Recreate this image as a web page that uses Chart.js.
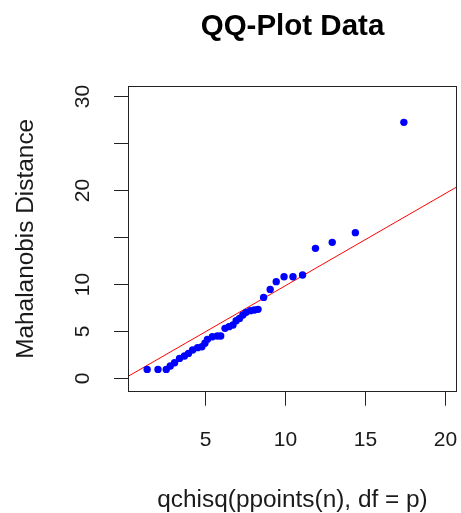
<!DOCTYPE html>
<html>
<head>
<meta charset="utf-8">
<script src="https://cdn.jsdelivr.net/npm/chart.js@4"></script>
<style>
  html, body { margin: 0; padding: 0; background: #fff; }
  canvas { display: block; }
</style>
</head>
<body>
<canvas id="qq" width="461" height="513"></canvas>
<script>
// chi-square quantiles (x) against squared Mahalanobis distances (y)
const chisqQuantiles = [1.36, 2.04, 2.56, 2.81, 3.08, 3.39, 3.70, 3.95, 4.21, 4.52, 4.79, 4.98,
  5.14, 5.45, 5.76, 5.97, 6.24, 6.49, 6.74, 6.94, 7.15, 7.36, 7.56, 7.83, 8.08, 8.31,
  8.66, 9.07, 9.45, 9.94, 10.50, 11.10, 11.91, 12.96, 14.41, 17.45];
const mahalanobis = [0.95, 0.95, 0.95, 1.31, 1.66, 2.12, 2.37, 2.65, 3.01, 3.26, 3.36, 3.72,
  4.14, 4.42, 4.50, 4.50, 5.31, 5.49, 5.66, 6.12, 6.37, 6.73, 7.01, 7.19, 7.26, 7.33,
  8.60, 9.45, 10.27, 10.80, 10.80, 10.98, 13.81, 14.45, 15.48, 27.20];

const xTicks = [5, 10, 15, 20];
const yTicks = [0, 5, 10, 15, 20, 25, 30];
const yTickLabels = ["0", "5", "10", "", "20", "", "30"];   // R drops 15 and 25 (overlap)

const xLimits = [0.16, 20.78];
const yLimits = [-1.42, 31.06];

// reference line
const lineIntercept = 0.05;
const lineSlope = 0.977;

const textColor = "#1a1a1a";
const fontFamily = "'Liberation Sans', Arial, sans-serif";

const refLine = xLimits.map(x => ({ x: x, y: lineIntercept + lineSlope * x }));
const points = chisqQuantiles.map((x, i) => ({ x: x, y: mahalanobis[i] }));

// R style box, ticks and labels
const rAxes = {
  id: "rAxes",
  afterDraw(chart) {
    const ctx = chart.ctx;
    const area = chart.chartArea;
    const xs = chart.scales.x;
    const ys = chart.scales.y;
    ctx.save();
    ctx.strokeStyle = "#222";
    ctx.lineWidth = 1;
    ctx.strokeRect(Math.round(area.left) + 0.5, Math.round(area.top) + 0.5,
      Math.round(area.right - area.left) - 1, Math.round(area.bottom - area.top) - 1);

    ctx.fillStyle = textColor;
    ctx.font = "21px " + fontFamily;

    // x ticks
    ctx.textAlign = "center";
    ctx.textBaseline = "alphabetic";
    xTicks.forEach(v => {
      const px = Math.round(xs.getPixelForValue(v)) + 0.5;
      ctx.beginPath();
      ctx.moveTo(px, area.bottom);
      ctx.lineTo(px, area.bottom + 14);
      ctx.stroke();
      ctx.fillText(String(v), px, 446);
    });

    // y ticks, labels rotated like las = 0
    yTicks.forEach((v, i) => {
      const py = Math.round(ys.getPixelForValue(v)) + 0.5;
      ctx.beginPath();
      ctx.moveTo(area.left - 14, py);
      ctx.lineTo(area.left, py);
      ctx.stroke();
      if (yTickLabels[i]) {
        ctx.save();
        ctx.translate(89, py);
        ctx.rotate(-Math.PI / 2);
        ctx.fillText(yTickLabels[i], 0, 0);
        ctx.restore();
      }
    });

    // titles
    const midX = (area.left + area.right) / 2;
    const midY = (area.top + area.bottom) / 2;
    ctx.font = "bold 29.5px " + fontFamily;
    ctx.fillStyle = "#000";
    ctx.fillText("QQ-Plot Data", midX, 35);

    ctx.fillStyle = textColor;
    ctx.font = "24.4px " + fontFamily;
    ctx.fillText("qchisq(ppoints(n), df = p)", midX, 507);

    ctx.save();
    ctx.translate(33, midY);
    ctx.rotate(-Math.PI / 2);
    ctx.fillText("Mahalanobis Distance", 0, 0);
    ctx.restore();

    ctx.restore();
  }
};

new Chart(document.getElementById("qq"), {
  type: "scatter",
  data: {
    datasets: [
      {
        data: points,
        backgroundColor: "#0000FF",
        borderWidth: 0,
        pointRadius: 3.7,
        order: 1
      },
      {
        type: "line",
        data: refLine,
        borderColor: "#FF0000",
        borderWidth: 1,
        pointRadius: 0,
        fill: false,
        order: 2
      }
    ]
  },
  options: {
    responsive: false,
    animation: false,
    layout: { padding: { left: 128, top: 86, right: 0.7, bottom: 121.3 } },
    plugins: { legend: { display: false }, tooltip: { enabled: false } },
    scales: {
      x: { type: "linear", min: xLimits[0], max: xLimits[1], display: false },
      y: { type: "linear", min: yLimits[0], max: yLimits[1], display: false }
    }
  },
  plugins: [rAxes]
});
</script>
</body>
</html>
